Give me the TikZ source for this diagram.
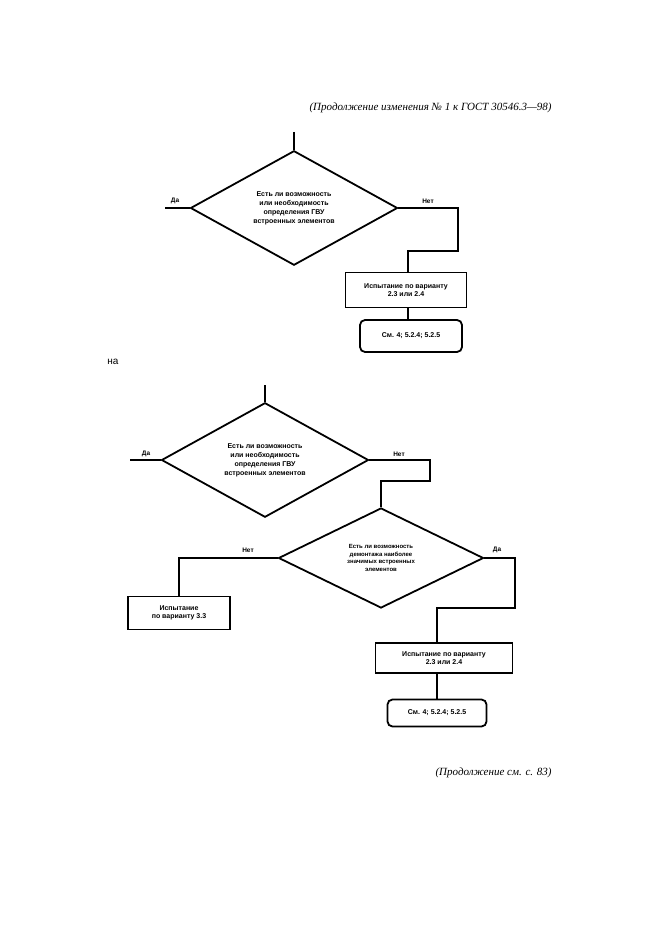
\documentclass[tikz,border=0pt]{standalone}
\usepackage{fontspec}
\setmainfont{Liberation Serif}
\newfontfamily\chartfont{Liberation Sans}
\usetikzlibrary{shapes.geometric,positioning}
\tikzset{
  flow/.style={line width=1.8pt},
  decide/.style={diamond,draw,line width=1.8pt,inner sep=0pt,align=center,
    font=\chartfont\bfseries\fontsize{7}{9}\selectfont},
  act/.style={rectangle,draw,line width=1.8pt,align=center,inner sep=0pt,
    font=\chartfont\bfseries\fontsize{7}{8.5}\selectfont},
  ref/.style={act,rounded corners=5pt},
  tag/.style={font=\chartfont\bfseries\fontsize{6.5}{7}\selectfont,inner sep=1pt}
}
\begin{document}
\begin{tikzpicture}[x=1pt,y=-1pt]
		\useasboundingbox (0,0) rectangle (661,936);
		%%Header
		\node[anchor=east,font=\itshape\fontsize{11}{13}\selectfont] (head) at (555,108) {(Продолжение изменения № 1 к ГОСТ 30546.3---98)};
		%%First chart
		\coordinate (in1) at (294,132);
		\node[decide,minimum width=207pt,minimum height=100pt] (q1) at (294,208) {Есть ли возможность\\или необходимость\\определения ГВУ\\встроенных элементов};
		\coordinate (yes1) at (165,208);
		\coordinate (no1) at (458,208);
		\node[act,minimum width=121pt,minimum height=35pt] (b1) at (406,290) {Испытание по варианту\\2.3 или 2.4};
		\node[ref,minimum width=102pt,minimum height=32pt] (r1) at (411,336) {См. 4; 5.2.4; 5.2.5};
		\draw[flow] (in1) -- (q1.north);
		\draw[flow] (q1.west) -- (yes1);
		\draw[flow] (q1.east) -- (no1) |- (408,251) -- (408,272.5);
		\draw[flow] (408,307.5) -- (408,320);
		\node[tag] (l1) at (175,201) {Да};
		\node[tag] (l2) at (428,201) {Нет};
		%%Separator
		\node[font=\chartfont\fontsize{10}{12}\selectfont] (na) at (113,362) {на};
		%%Second chart
		\coordinate (in2) at (265,385);
		\node[decide,minimum width=207pt,minimum height=100pt] (q2) at (265,460) {Есть ли возможность\\или необходимость\\определения ГВУ\\встроенных элементов};
		\coordinate (yes2) at (130,460);
		\coordinate (no2) at (430,460);
		\node[decide,minimum width=205pt,minimum height=100pt,font=\chartfont\bfseries\fontsize{6}{7.5}\selectfont] (q3) at (381,558) {Есть ли возможность\\демонтажа наиболее\\значимых встроенных\\элементов};
		\node[act,minimum width=102pt,minimum height=33pt] (b2) at (179,613) {Испытание\\по варианту 3.3};
		\node[act,minimum width=137pt,minimum height=30pt] (b3) at (444,658) {Испытание по варианту\\2.3 или 2.4};
		\node[ref,minimum width=99pt,minimum height=27pt] (r2) at (437,713) {См. 4; 5.2.4; 5.2.5};
		\draw[flow] (in2) -- (q2.north);
		\draw[flow] (q2.west) -- (yes2);
		\draw[flow] (q2.east) -- (no2) |- (381,481) -- (q3.north);
		\draw[flow] (q3.west) -| (b2.north);
		\draw[flow] (q3.east) -- (515,558) |- (437,608) -- (437,643);
		\draw[flow] (437,673) -- (r2.north);
		\node[tag] (l3) at (146,454) {Да};
		\node[tag] (l4) at (399,454) {Нет};
		\node[tag] (l5) at (248,550) {Нет};
		\node[tag] (l6) at (497,550) {Да};
		%%Footer
		\node[anchor=east,font=\itshape\fontsize{11}{13}\selectfont] (foot) at (555,773) {(Продолжение см. с. 83)};
\end{tikzpicture}
\end{document}
